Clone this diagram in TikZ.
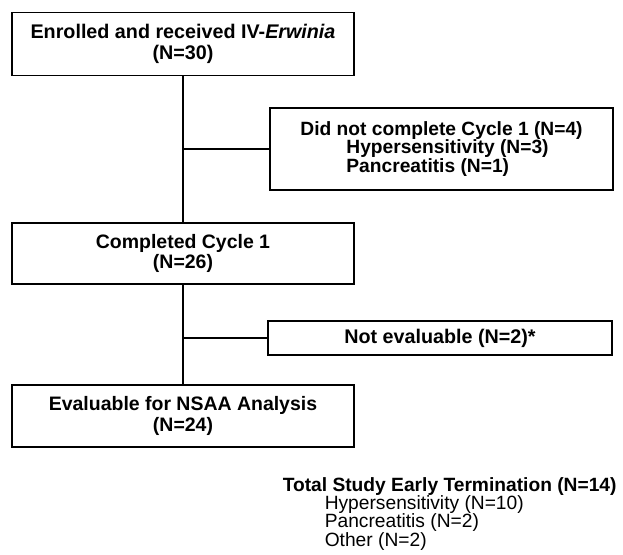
\documentclass[tikz,border=0pt]{standalone}
\usepackage{fontspec}
\setmainfont{Liberation Sans}
\newcommand\tightls{\lineskiplimit=-20pt\relax}
\begin{document}
\begin{tikzpicture}[x=0.75pt,y=-0.75pt,
  box/.style={draw,line width=1.1pt,inner sep=0pt,align=center},
  link/.style={line width=1.1pt}]
\useasboundingbox (0,0) rectangle (623,554);
\node[box,minimum width=342*0.75pt,minimum height=63*0.75pt,font=\bfseries\fontsize{14.8}{15.75}\selectfont\tightls] (enr) at (183,44) {Enrolled and received IV-\textit{Erwinia}\\(N=30)};
\node[box,minimum width=343*0.75pt,minimum height=82*0.75pt,align=left,font=\bfseries\fontsize{14.4}{13.6}\selectfont\tightls] (dnc) at (441.5,149) {Did not complete Cycle 1 (N=4)\\\hspace*{34.5pt}Hypersensitivity (N=3)\\\hspace*{34.5pt}Pancreatitis (N=1)};
\node[box,minimum width=342*0.75pt,minimum height=61*0.75pt,font=\bfseries\fontsize{14.6}{14.8}\selectfont\tightls] (cc) at (183,253.5) {Completed Cycle 1\\(N=26)};
\node[box,minimum width=344*0.75pt,minimum height=34*0.75pt,font=\bfseries\fontsize{14.8}{15}\selectfont] (ne) at (440,338) {Not evaluable (N=2)*};
\node[box,minimum width=342*0.75pt,minimum height=62*0.75pt,font=\bfseries\fontsize{14.6}{16}\selectfont\tightls] (ev) at (183,416) {Evaluable for NSAA Analysis\\(N=24)};
\coordinate (j1) at (enr.south |- dnc.west);
\coordinate (j2) at (cc.south |- ne.west);
\draw[link] (enr.south) -- (cc.north);
\draw[link] (j1) -- (dnc.west);
\draw[link] (cc.south) -- (ev.north);
\draw[link] (j2) -- (ne.west);
\node[anchor=north west,inner sep=0pt,align=left,font=\fontsize{14.4}{13.8}\selectfont\tightls] (tot) at (282.5,477) {\textbf{Total Study Early Termination (N=14)}\\\hspace*{31.5pt}Hypersensitivity (N=10)\\\hspace*{31.5pt}Pancreatitis (N=2)\\\hspace*{31.5pt}Other (N=2)};
\end{tikzpicture}
\end{document}
